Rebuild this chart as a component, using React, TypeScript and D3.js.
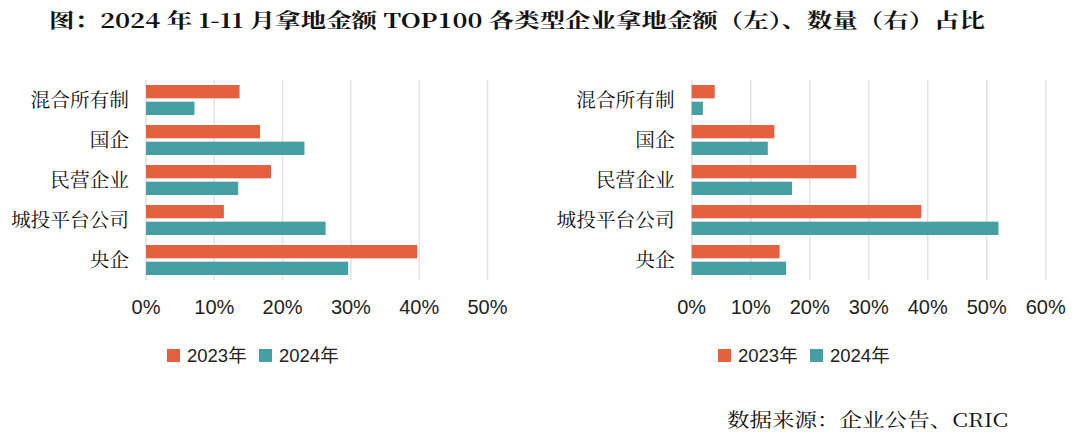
import * as d3 from "d3";

const categories = ["混合所有制", "国企", "民营企业", "城投平台公司", "央企"];
const seriesNames = ["2023年", "2024年"];
const amount2023 = [13.7, 16.7, 18.3, 11.4, 39.7];
const amount2024 = [7.1, 23.2, 13.5, 26.3, 29.6];
const count2023 = [3.9, 14.0, 27.9, 38.9, 14.9];
const count2024 = [1.9, 12.9, 17.0, 52.0, 16.0];
const leftTicks = [0, 10, 20, 30, 40, 50];
const rightTicks = [0, 10, 20, 30, 40, 50, 60];

const colors = ["#E4603F", "#469FA3"];
const sansFont = "'Liberation Sans', Arial, 'Noto Sans CJK SC', sans-serif";
const cjkFont = "'Noto Serif CJK SC', 'Noto Sans CJK SC', serif";

type PanelProps = {
  x0: number;
  x1: number;
  ticks: number[];
  a: number[];
  b: number[];
  legendX: number;
};

const Panel = ({ x0, x1, ticks, a, b, legendX }: PanelProps) => {
  const x = d3.scaleLinear().domain([0, ticks[ticks.length - 1]]).range([x0, x1]);
  const y = d3.scaleBand().domain(categories).range([80, 280]).paddingInner(0).paddingOuter(0);
  const inner = d3.scaleBand().domain(seriesNames).range([0, y.bandwidth()]).paddingInner(0.2).paddingOuter(0.3);

  return (
    <g>
      {ticks.map((t) => (
        <line key={"g" + t} x1={x(t)} x2={x(t)} y1={80} y2={280} stroke="#e2e2e2" strokeWidth={1.5} />
      ))}
      {categories.map((c, i) => (
        <g key={c} transform={`translate(0,${y(c)})`}>
          {[a[i], b[i]].map((v, j) => (
            <rect
              key={j}
              x={x(0)}
              y={inner(seriesNames[j])}
              width={x(v) - x(0)}
              height={inner.bandwidth()}
              fill={colors[j]}
            />
          ))}
          <text
            x={x0 - 17}
            y={y.bandwidth() / 2}
            dy="0.35em"
            textAnchor="end"
            fontFamily={cjkFont}
            fontSize={19.7}
            fill="#111"
          >
            {c}
          </text>
        </g>
      ))}
      {ticks.map((t) => (
        <text
          key={"t" + t}
          x={x(t)}
          y={307}
          dy="0.35em"
          textAnchor="middle"
          fontFamily={sansFont}
          fontSize={20}
          fill="#222"
        >
          {t + "%"}
        </text>
      ))}
      {seriesNames.map((s, j) => (
        <g key={s} transform={`translate(${legendX + j * 92},349)`}>
          <rect x={0} y={0} width={13} height={13} fill={colors[j]} />
          <text x={20} y={7} dy="0.35em" fontFamily={sansFont} fontSize={18.5} fill="#222">
            {s}
          </text>
        </g>
      ))}
    </g>
  );
};

const App = () => {
  return (
    <div style={{ position: "fixed", left: 0, top: 0 }}>
      <svg width={1080} height={440} style={{ display: "block", background: "#fff" }}>
        <text
          x={49}
          y={21}
          dy="0.35em"
          fontFamily={cjkFont}
          fontWeight="bold"
          fontSize={20}
          fill="#111"
          textLength={936}
          lengthAdjust="spacingAndGlyphs"
        >
          图：2024 年 1-11 月拿地金额 TOP100 各类型企业拿地金额（左）、数量（右）占比
        </text>
        <Panel x0={146} x1={487.5} ticks={leftTicks} a={amount2023} b={amount2024} legendX={167} />
        <Panel x0={691.7} x1={1045.7} ticks={rightTicks} a={count2023} b={count2024} legendX={718} />
        <text
          x={727}
          y={420}
          dy="0.35em"
          fontFamily={cjkFont}
          fontSize={19}
          fill="#111"
          textLength={281}
          lengthAdjust="spacingAndGlyphs"
        >
          数据来源：企业公告、CRIC
        </text>
      </svg>
    </div>
  );
};

export default App;
